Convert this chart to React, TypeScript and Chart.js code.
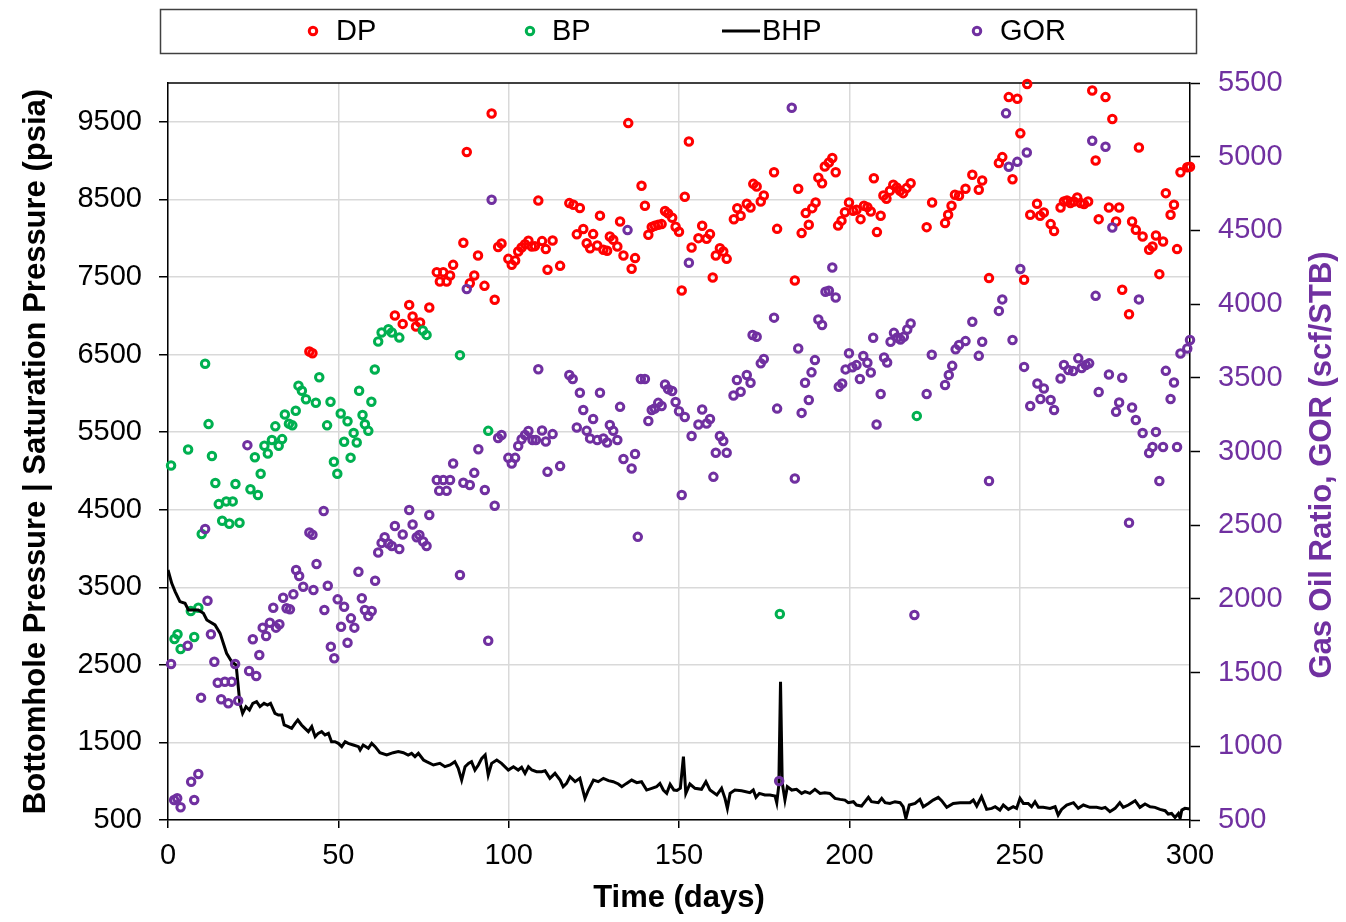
import React, { useEffect, useRef } from "react";
import { Chart, registerables } from "chart.js";

Chart.register(...registerables);

const FONT = '"Liberation Sans", Arial, Helvetica, sans-serif';
const RED = "#ff0000";
const GREEN = "#00b050";
const PURPLE = "#7030a0";

// ---- tick labels ----
const xTicks = [0, 50, 100, 150, 200, 250, 300];
const pressureTicks = [500, 1500, 2500, 3500, 4500, 5500, 6500, 7500, 8500, 9500];
const gorTicks = [500, 1000, 1500, 2000, 2500, 3000, 3500, 4000, 4500, 5000, 5500];

// ---- DP (dew point pressure, psia) ----
const dpDays = [
  41.5, 42.4, 66.6, 68.9, 70.8, 71.8, 72.8, 74.0, 76.7, 78.9,
  79.8, 80.8, 81.8, 82.8, 83.7, 86.7, 87.7, 88.6, 89.9, 91.0,
  92.9, 95.0, 95.9, 96.9, 97.9, 99.9, 100.9, 101.9, 102.8, 103.8,
  104.8, 105.8, 106.8, 107.7, 108.7, 109.8, 110.9, 111.4, 112.9, 115.1,
  117.8, 119.0, 120.0, 120.9, 121.9, 122.9, 123.9, 124.8, 126.0, 126.8,
  127.8, 128.9, 129.7, 130.7, 131.9, 132.7, 133.7, 135.1, 136.1, 137.1,
  139.0, 140.0, 141.0, 142.0, 142.9, 143.9, 144.9, 145.9, 146.8, 148.0,
  149.0, 150.0, 150.8, 151.7, 152.9, 153.7, 155.7, 156.8, 158.1, 159.1,
  159.9, 160.8, 162.0, 163.0, 164.0, 166.1, 167.1, 168.1, 169.9, 171.0,
  171.8, 172.8, 174.0, 174.9, 177.9, 178.8, 184.0, 185.0, 186.0, 187.2,
  188.1, 189.1, 190.1, 190.9, 192.0, 192.8, 194.0, 195.0, 196.0, 196.7,
  197.7, 198.7, 199.9, 201.1, 202.1, 203.3, 204.3, 205.3, 206.3, 207.2,
  208.1, 209.2, 210.0, 210.9, 211.9, 212.9, 213.9, 214.9, 215.8, 216.8,
  218.0, 222.7, 224.3, 228.1, 229.0, 230.0, 231.0, 232.2, 234.1, 236.1,
  238.0, 239.0, 241.0, 243.9, 244.9, 246.8, 247.9, 249.3, 250.2, 251.3,
  252.2, 253.1, 255.1, 256.0, 257.1, 259.1, 260.1, 262.0, 263.0, 263.9,
  264.9, 265.9, 266.9, 267.9, 268.9, 270.1, 271.3, 272.3, 273.2, 275.2,
  276.2, 277.2, 278.3, 279.2, 280.1, 282.1, 283.0, 284.1, 285.0, 286.1,
  288.0, 289.0, 290.0, 291.0, 292.1, 292.9, 294.3, 295.3, 296.2, 297.2,
  299.2, 300.0,
];
const dpValues = [
  6538, 6517, 7003, 6895, 7140, 6990, 6861, 6912, 7106, 7562,
  7441, 7562, 7441, 7518, 7656, 7940, 9110, 7418, 7518, 7776,
  7385, 9607, 7205, 7885, 7931, 7733, 7656, 7712, 7828, 7880,
  7923, 7966, 7892, 7897, 8484, 7962, 7859, 7592, 7970, 7643,
  8452, 8430, 8049, 8388, 8117, 7935, 7871, 8052, 7905, 8290,
  7850, 7837, 8021, 7979, 7892, 8215, 7776, 9483, 7605, 7743,
  8676, 8418, 8043, 8143, 8159, 8172, 8181, 8349, 8319, 8263,
  8147, 8083, 7325, 8534, 9245, 7880, 8000, 8159, 7992, 8052,
  7492, 7776, 7871, 7828, 7733, 8243, 8385, 8288, 8443, 8395,
  8700, 8666, 8473, 8550, 8849, 8120, 7454, 8636, 8065, 8323,
  8172, 8387, 8459, 8780, 8707, 8924, 8976, 9033, 8849, 8162,
  8226, 8334, 8459, 8352, 8365, 8245, 8417, 8400, 8343, 8773,
  8078, 8288, 8550, 8507, 8610, 8688, 8653, 8610, 8580, 8645,
  8707, 8142, 8459, 8194, 8301, 8417, 8559, 8546, 8636, 8817,
  8623, 8743, 7485, 8968, 9045, 9818, 8760, 9797, 9351, 7463,
  9986, 8301, 8443, 8288, 8331, 8181, 8091, 8395, 8473, 8486,
  8452, 8473, 8524, 8452, 8439, 8473, 9903, 9002, 8245, 9818,
  8395, 9535, 8215, 8395, 7334, 7020, 8215, 8107, 9168, 8021,
  7850, 7892, 8034, 7536, 7957, 8580, 8301, 8430, 7859, 8849,
  8913, 8920,
];

// ---- BP (bubble point pressure, psia) ----
const bpDays = [
  0.9, 1.9, 2.8, 3.7, 5.9, 6.7, 7.7, 8.9, 9.9, 10.9,
  11.9, 12.9, 13.9, 14.9, 15.9, 17.1, 18.0, 19.0, 19.8, 21.0,
  24.2, 25.5, 26.4, 27.2, 28.3, 29.3, 30.5, 31.5, 32.5, 33.5,
  34.3, 35.5, 36.5, 37.5, 38.3, 39.3, 40.5, 43.4, 44.4, 46.7,
  47.7, 48.7, 49.7, 50.7, 51.7, 52.7, 53.6, 54.5, 55.4, 56.1,
  57.1, 57.8, 58.8, 59.7, 60.7, 61.7, 62.7, 64.7, 65.7, 67.9,
  74.8, 75.9, 85.7, 94.0, 179.6, 219.8,
];
const bpValues = [
  5070, 2834, 2894, 2705, 5276, 3195, 2860, 3237, 4186, 6382,
  5603, 5193, 4843, 4572, 4358, 4607, 4318, 4607, 4830, 4331,
  4764, 5175, 4690, 4963, 5323, 5223, 5398, 5574, 5323, 5410,
  5726, 5609, 5587, 5775, 6099, 6033, 5923, 5879, 6208, 5587,
  5892, 5119, 4963, 5740, 5376, 5640, 5171, 5490, 5366, 6034,
  5720, 5602, 5516, 5892, 6306, 6667, 6783, 6827, 6783, 6718,
  6809, 6753, 6492, 5516, 3156, 5709,
];

// ---- BHP (bottomhole pressure, psia) ----
const bhpDays = [
  0, 1.1, 2.1, 3.5, 5.0, 6.0, 8.9, 10.4, 11.4, 13.8,
  15.3, 17.2, 18.7, 20.0, 21.1, 21.9, 22.9, 23.9, 24.9, 26.0,
  27.0, 28.2, 29.2, 30.1, 31.4, 32.4, 33.4, 34.1, 35.3, 36.3,
  37.3, 38.1, 39.2, 40.2, 41.2, 42.2, 43.2, 44.1, 45.1, 46.1,
  47.1, 48.0, 49.0, 50.0, 51.0, 52.0, 52.9, 54.4, 55.9, 56.4,
  57.3, 58.8, 59.8, 60.8, 62.2, 64.2, 66.1, 67.6, 69.1, 70.5,
  71.5, 72.5, 73.5, 75.0, 75.9, 77.9, 79.8, 81.3, 82.8, 84.2,
  85.2, 86.2, 87.2, 88.2, 89.1, 90.1, 91.1, 92.1, 93.1, 94.0,
  95.0, 96.5, 97.9, 99.9, 101.4, 102.8, 103.8, 104.8, 105.8, 106.8,
  108.2, 109.7, 110.7, 112.1, 113.6, 115.1, 116.0, 117.0, 118.0, 119.5,
  120.9, 122.4, 123.4, 124.9, 126.3, 127.8, 129.3, 130.7, 132.2, 133.2,
  134.6, 136.1, 137.6, 139.0, 140.5, 142.0, 143.4, 144.4, 145.4, 146.4,
  147.4, 148.5, 149.4, 150.4, 151.3, 152.0, 153.2, 154.7, 156.6, 157.9,
  159.1, 161.1, 162.5, 163.5, 164.2, 165.0, 166.4, 168.4, 170.8, 171.8,
  172.6, 173.6, 175.2, 176.7, 178.2, 178.7, 179.3, 179.8, 180.3, 181.1,
  181.8, 183.1, 184.5, 186.0, 187.0, 188.4, 189.9, 191.4, 192.8, 194.3,
  195.8, 197.3, 198.7, 199.7, 201.2, 202.1, 203.6, 204.6, 205.6, 206.5,
  208.5, 209.5, 210.5, 211.9, 213.4, 214.9, 215.8, 216.6, 217.6, 219.3,
  220.7, 221.7, 223.2, 224.6, 226.1, 227.1, 228.6, 230.5, 232.5, 233.9,
  235.4, 236.4, 237.4, 238.8, 240.3, 241.8, 242.8, 244.2, 245.2, 246.7,
  248.1, 249.1, 250.1, 251.1, 252.5, 253.5, 254.5, 255.5, 256.9, 258.9,
  260.4, 261.3, 262.3, 263.8, 265.8, 267.2, 268.7, 270.6, 272.6, 274.1,
  275.1, 276.5, 278.0, 279.4, 280.4, 281.9, 283.9, 285.3, 286.8, 288.3,
  289.7, 291.2, 292.7, 293.6, 294.6, 295.6, 296.6, 297.1, 297.6, 298.5,
  300.0,
];
const bhpValues = [
  3723, 3551, 3444, 3315, 3293, 3207, 3207, 3164, 3078, 3014,
  2906, 2649, 2541, 2498, 2004, 1875, 1961, 1918, 2004, 2025,
  1961, 2004, 1982, 2004, 1875, 1853, 1853, 1725, 1703, 1681,
  1746, 1789, 1725, 1681, 1639, 1703, 1574, 1617, 1639, 1596,
  1617, 1510, 1510, 1488, 1445, 1510, 1488, 1467, 1445, 1402,
  1467, 1424, 1488, 1445, 1368, 1338, 1368, 1381, 1368, 1338,
  1359, 1316, 1359, 1273, 1252, 1209, 1230, 1187, 1209, 1252,
  1166, 1015, 1187, 1230, 1252, 1144, 1209, 1295, 1338, 1080,
  1230, 1273, 1230, 1144, 1187, 1144, 1179, 1101, 1187, 1144,
  1123, 1123, 1136, 1037, 1101, 1015, 929, 972, 1058, 994,
  1037, 779, 886, 1015, 994, 1037, 1007, 994, 964, 929,
  972, 1015, 981, 994, 886, 908, 929, 972, 886, 843,
  960, 886, 880, 910, 1316, 843, 964, 908, 895, 994,
  886, 822, 908, 779, 650, 843, 886, 878, 852, 886,
  792, 843, 822, 822, 809, 723, 950, 2283, 980, 757,
  929, 886, 895, 843, 865, 843, 895, 843, 852, 843,
  779, 766, 757, 723, 736, 693, 680, 736, 792, 736,
  723, 779, 723, 714, 736, 723, 671, 521, 693, 714,
  766, 671, 714, 757, 792, 749, 663, 714, 723, 723,
  723, 757, 680, 800, 637, 650, 671, 628, 693, 637,
  671, 650, 779, 714, 714, 671, 736, 663, 663, 650,
  671, 564, 637, 693, 723, 650, 693, 663, 663, 650,
  663, 607, 650, 723, 663, 693, 749, 663, 706, 671,
  663, 637, 620, 577, 585, 534, 585, 521, 628, 650,
  640,
];

// ---- GOR (scf/STB) ----
const gorDays = [
  0.9, 1.8, 2.7, 3.7, 5.8, 6.8, 7.7, 8.9, 9.7, 10.9,
  11.6, 12.6, 13.6, 14.6, 15.6, 16.7, 17.7, 18.7, 19.7, 20.6,
  23.3, 23.8, 24.9, 25.9, 26.8, 27.8, 28.8, 29.9, 30.9, 31.7,
  32.7, 33.8, 34.8, 35.8, 36.8, 37.6, 38.5, 39.7, 41.5, 42.4,
  42.7, 43.6, 45.7, 45.9, 46.9, 47.8, 48.8, 49.8, 50.8, 51.7,
  52.7, 53.7, 54.7, 55.9, 56.9, 57.8, 58.8, 59.8, 60.8, 61.7,
  62.7, 63.6, 64.7, 65.7, 66.6, 67.9, 68.9, 70.8, 71.8, 73.0,
  73.8, 74.9, 75.9, 76.7, 78.9, 79.6, 80.8, 81.8, 82.8, 83.7,
  85.7, 86.7, 87.7, 88.6, 89.9, 91.1, 93.0, 94.0, 95.0, 95.9,
  96.9, 97.9, 99.9, 100.9, 101.9, 102.8, 103.8, 104.8, 105.8, 107.0,
  108.0, 108.7, 109.8, 110.9, 111.4, 112.9, 115.1, 117.8, 118.8, 120.0,
  120.9, 121.9, 122.9, 123.9, 124.8, 126.0, 126.8, 127.8, 128.9, 129.7,
  130.7, 131.9, 132.7, 133.7, 134.9, 136.1, 137.1, 137.9, 138.8, 140.0,
  141.0, 142.0, 142.9, 143.9, 144.9, 145.9, 146.8, 148.0, 149.0, 150.0,
  150.8, 151.7, 152.9, 153.7, 155.7, 156.8, 158.1, 159.1, 160.1, 160.8,
  162.0, 163.0, 164.0, 166.0, 167.0, 168.1, 169.9, 171.0, 171.6, 172.8,
  174.0, 174.9, 177.9, 178.8, 179.4, 183.1, 184.0, 185.0, 186.0, 187.0,
  188.1, 188.9, 189.9, 190.9, 192.0, 193.0, 194.0, 195.0, 196.0, 196.9,
  197.9, 198.9, 199.9, 200.9, 202.1, 203.1, 204.1, 205.3, 206.3, 207.0,
  208.0, 209.2, 210.2, 211.1, 212.1, 213.1, 214.1, 215.0, 216.0, 217.0,
  218.0, 219.1, 222.7, 224.2, 228.1, 229.2, 230.2, 231.2, 232.2, 234.1,
  236.1, 238.0, 239.0, 241.0, 243.9, 244.9, 246.0, 246.8, 247.9, 249.3,
  250.2, 251.3, 252.1, 253.1, 255.2, 256.1, 257.1, 259.1, 260.1, 262.0,
  263.0, 264.3, 265.7, 267.2, 268.2, 269.4, 270.4, 271.3, 272.3, 273.2,
  275.2, 276.2, 277.2, 278.3, 279.2, 280.1, 282.1, 283.0, 284.1, 285.0,
  286.1, 288.0, 289.0, 290.0, 291.0, 292.1, 292.9, 294.3, 295.3, 296.2,
  297.2, 299.2, 300.0,
];
const gorValues = [
  1558, 636, 647, 586, 1682, 760, 636, 812, 1330, 2474,
  1988, 1760, 1574, 1431, 1319, 1438, 1292, 1438, 1558, 1309,
  3043, 1511, 1726, 1477, 1619, 1805, 1748, 1838, 1940, 1805,
  1828, 2008, 1936, 1929, 2031, 2196, 2155, 2083, 2451, 2435,
  2060, 2237, 2596, 1925, 2089, 1676, 1597, 1997, 1811, 1947,
  1703, 1868, 1805, 2184, 2004, 1925, 1884, 1918, 2123, 2315,
  2380, 2418, 2376, 2359, 2495, 2338, 2437, 2603, 2505, 2418,
  2433, 2389, 2359, 2569, 2807, 2733, 2807, 2733, 2807, 2919,
  2162, 2788, 4102, 2773, 2855, 3015, 2739, 1716, 4708, 2632,
  3092, 3112, 2957, 2919, 2957, 3037, 3083, 3112, 3139, 3078,
  3078, 3558, 3143, 3068, 2862, 3118, 2901, 3519, 3492, 3163,
  3398, 3281, 3140, 3089, 3220, 3078, 3398, 3089, 3061, 3180,
  3140, 3078, 3303, 2949, 4502, 2885, 2983, 2421, 3492, 3492,
  3207, 3281, 3292, 3330, 3309, 3455, 3423, 3411, 3336, 3273,
  2705, 3234, 4281, 3105, 3183, 3285, 3190, 3220, 2828, 2992,
  3105, 3071, 2992, 3380, 3485, 3405, 3519, 3466, 3790, 3778,
  3598, 3627, 3908, 3291, 765, 5332, 2817, 3699, 3262, 3466,
  3349, 3537, 3620, 3895, 3858, 4084, 4090, 4248, 4045, 3439,
  3461, 3557, 3666, 3571, 3586, 3492, 3648, 3602, 3536, 3772,
  3183, 3390, 3638, 3604, 3744, 3805, 3773, 3760, 3778, 3828,
  3868, 1891, 3390, 3656, 3451, 3519, 3581, 3693, 3722, 3749,
  3880, 3649, 3744, 2800, 3954, 4032, 5294, 4932, 3756, 4965,
  4238, 3574, 5029, 3309, 3461, 3356, 3427, 3349, 3281, 3495,
  3587, 3553, 3546, 3632, 3567, 3587, 3598, 5108, 4056, 3404,
  5067, 3522, 4520, 3269, 3332, 3500, 2517, 3298, 3214, 4032,
  3126, 2990, 3031, 3133, 2800, 3031, 3547, 3356, 3468, 3031,
  3665, 3699, 3756,
];

// ---- legend layout (positions only) ----
const legendLayout = [
  { label: "DP", markerX: 313, textX: 336 },
  { label: "BP", markerX: 530, textX: 552 },
  { label: "BHP", lineX0: 722, lineX1: 760, textX: 762 },
  { label: "GOR", markerX: 977, textX: 1000 },
];

function toPoints(xs: number[], ys: number[]) {
  const n = Math.min(xs.length, ys.length);
  const pts: { x: number; y: number }[] = [];
  for (let i = 0; i < n; i++) pts.push({ x: xs[i], y: ys[i] });
  return pts;
}

const decorPlugin = {
  id: "decor",
  beforeDatasetsDraw(chart: any) {
    const { ctx, chartArea: a } = chart;
    ctx.save();
    ctx.strokeStyle = "#000";
    ctx.lineWidth = 1.5;
    ctx.beginPath();
    ctx.moveTo(a.left, a.top);
    ctx.lineTo(a.right, a.top);
    ctx.stroke();
    ctx.restore();
  },
  afterDraw(chart: any) {
    const { ctx, chartArea: a } = chart;
    ctx.save();
    // legend frame
    ctx.strokeStyle = "#404040";
    ctx.lineWidth = 1.5;
    ctx.strokeRect(160.5, 9.5, 1036, 44);
    const cy = 31;
    ctx.font = `29px ${FONT}`;
    ctx.textBaseline = "middle";
    ctx.textAlign = "left";
    for (const item of legendLayout as any[]) {
      const ds: any = chart.data.datasets.find((d: any) => d.label === item.label);
      if (!ds) continue;
      if (item.lineX0 !== undefined) {
        ctx.strokeStyle = ds.borderColor;
        ctx.lineWidth = 3;
        ctx.beginPath();
        ctx.moveTo(item.lineX0, cy);
        ctx.lineTo(item.lineX1, cy);
        ctx.stroke();
      } else {
        ctx.strokeStyle = ds.pointBorderColor;
        ctx.lineWidth = ds.pointBorderWidth;
        ctx.beginPath();
        ctx.arc(item.markerX, cy, ds.pointRadius, 0, Math.PI * 2);
        ctx.stroke();
      }
      ctx.fillStyle = "#000";
      ctx.fillText(item.label, item.textX, cy + 1);
    }
    // right axis title (reads bottom-to-top)
    ctx.translate(a.right + 132, 465);
    ctx.rotate(-Math.PI / 2);
    ctx.font = `bold 31px ${FONT}`;
    ctx.fillStyle = PURPLE;
    ctx.textAlign = "center";
    ctx.textBaseline = "middle";
    ctx.fillText("Gas Oil Ratio, GOR (scf/STB)", 0, 0);
    ctx.restore();
  },
};

export default function App() {
  const ref = useRef<HTMLCanvasElement>(null);

  useEffect(() => {
    if (!ref.current) return;
    const pointStyle = (color: string) => ({
      showLine: false,
      pointRadius: 3.75,
      pointHoverRadius: 3.75,
      pointBorderWidth: 3,
      pointBorderColor: color,
      pointBackgroundColor: "rgba(0,0,0,0)",
      borderColor: color,
      backgroundColor: "rgba(0,0,0,0)",
      clip: false as any,
    });
    const tickFont = { family: FONT, size: 29 };
    const titleFont = { family: FONT, size: 31, weight: "bold" as const };

    const chart = new Chart(ref.current, {
      type: "scatter",
      data: {
        datasets: [
          { label: "DP", data: toPoints(dpDays, dpValues), yAxisID: "y", order: 3, ...pointStyle(RED) },
          { label: "BP", data: toPoints(bpDays, bpValues), yAxisID: "y", order: 2, ...pointStyle(GREEN) },
          {
            label: "BHP",
            data: toPoints(bhpDays, bhpValues),
            yAxisID: "y",
            order: 1,
            showLine: true,
            borderColor: "#000",
            backgroundColor: "#000",
            borderWidth: 3,
            pointRadius: 0,
            pointHoverRadius: 0,
            tension: 0,
          },
          { label: "GOR", data: toPoints(gorDays, gorValues), yAxisID: "y2", order: 0, ...pointStyle(PURPLE) },
        ] as any,
      },
      options: {
        responsive: false,
        animation: false,
        events: [],
        layout: { padding: { top: 83, left: 0, right: 0, bottom: 0 } },
        plugins: { legend: { display: false }, tooltip: { enabled: false } },
        scales: {
          x: {
            type: "linear",
            position: "bottom",
            min: 0,
            max: 300,
            afterBuildTicks: (s: any) => {
              s.ticks = xTicks.map((v) => ({ value: v }));
            },
            afterFit: (s: any) => {
              s.height = 102;
            },
            ticks: {
              font: tickFont,
              color: "#000",
              padding: 11,
              maxRotation: 0,
              autoSkip: false,
              callback: (v: any) => String(v),
            },
            grid: { color: "#d9d9d9", lineWidth: 1.5, tickColor: "#000", tickLength: 8, tickWidth: 1.5 },
            border: { color: "#000", width: 1.5 },
            title: {
              display: true,
              text: "Time (days)",
              font: titleFont,
              color: "#000",
              padding: { top: 0, bottom: 5 },
            },
          },
          y: {
            type: "linear",
            position: "left",
            min: 500,
            max: 10000,
            afterBuildTicks: (s: any) => {
              s.ticks = pressureTicks.map((v) => ({ value: v }));
            },
            afterFit: (s: any) => {
              s.width = 168;
            },
            ticks: {
              font: tickFont,
              color: "#000",
              padding: 17,
              autoSkip: false,
              callback: (v: any) => String(v),
            },
            grid: { color: "#d9d9d9", lineWidth: 1.5, tickColor: "#000", tickLength: 9, tickWidth: 1.5 },
            border: { color: "#000", width: 1.5 },
            title: {
              display: true,
              text: "Bottomhole Pressure | Saturation Pressure (psia)",
              font: titleFont,
              color: "#000",
              padding: { top: 18, bottom: 0 },
            },
          },
          y2: {
            type: "linear",
            position: "right",
            min: 500,
            max: 5500,
            afterBuildTicks: (s: any) => {
              s.ticks = gorTicks.map((v) => ({ value: v }));
            },
            afterFit: (s: any) => {
              s.width = 156;
            },
            ticks: {
              font: tickFont,
              color: PURPLE,
              padding: 18,
              autoSkip: false,
              callback: (v: any) => String(v),
            },
            grid: { drawOnChartArea: false, tickColor: "#000", tickLength: 10, tickWidth: 1.5 },
            border: { color: "#000", width: 1.5 },
          },
        } as any,
      },
      plugins: [decorPlugin],
    });
    return () => chart.destroy();
  }, []);

  return (
    <div style={{ position: "fixed", left: 0, top: 0, width: 1346, height: 922, background: "#fff" }}>
      <canvas ref={ref} width={1346} height={922} style={{ display: "block" }} />
    </div>
  );
}
